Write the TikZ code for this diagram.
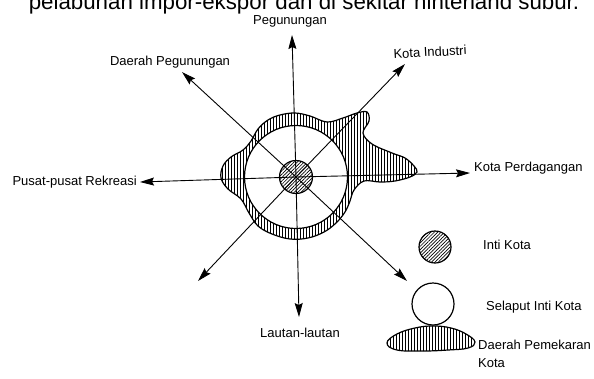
\documentclass[tikz,border=0pt]{standalone}
\usepackage{fontspec}
\setmainfont{Liberation Sans}
\usetikzlibrary{arrows.meta,patterns.meta}
\begin{document}
\begin{tikzpicture}[x=1pt,y=-1pt,
  lbl/.style={font=\fontsize{13}{18}\selectfont, inner sep=0pt},
  spoke/.style={line width=0.9pt, -{Stealth[length=14pt,width=8pt,inset=2pt]}},
  ring/.style={pattern={Lines[angle=90,distance=3pt,line width=0.7pt]}},
  core/.style={pattern={Lines[angle=45,distance=2.4pt,line width=0.7pt]}},
  outline/.style={line width=1.2pt},
  disc/.style={circle, draw, outline, inner sep=0pt}]
\useasboundingbox (0,0) rectangle (594,378);
% cut-off heading line (cropped in the reference)
\node[font=\fontsize{22.3}{26}\selectfont, anchor=base, inner sep=0pt] (head) at (304,9) {pelabuhan impor-ekspor dan di sekitar hinterland subur.};
% expansion area
\path[ring, draw, outline] plot[smooth cycle, tension=0.6] coordinates {
 (295,113) (310,116) (327,122) (343,118) (357,113) (367,112) (369,121) (363,133)
 (372,144) (392,153) (405,158) (414,166) (417,172) (410,177) (395,181) (380,182)
 (364,181) (354,190) (350,201) (345,212) (336,223) (324,232) (308,238) (290,239)
 (272,234) (258,226) (249,213) (241,199) (228,189) (221,178) (223,166) (231,157)
 (243,150) (251,141) (258,129) (268,120) (280,115)};
\node[disc, fill=white, minimum size=103pt] (mid) at (296,177) {};
\node[disc, core, minimum size=33pt] (core) at (296,177) {};
\coordinate (c) at (296,177);
% spoke tips
\coordinate (tN) at (292,35);
\coordinate (tNE) at (405,64);
\coordinate (tE) at (470,173);
\coordinate (tSE) at (407,281);
\coordinate (tS) at (299,317);
\coordinate (tSW) at (198,281);
\coordinate (tW) at (140,182);
\coordinate (tNW) at (182,72);
\foreach \t in {tN,tNE,tE,tSE,tS,tSW,tW,tNW} \draw[spoke] (c) -- (\t);
% labels
\node[lbl] (nPeg) at (290,21) {Pegunungan};
\node[lbl] (nDP) at (170,62) {Daerah Pegunungan};
\node[lbl, rotate=3] (nKI) at (430,52) {Kota Industri};
\node[lbl, anchor=east] (nPR) at (137,182) {Pusat-pusat Rekreasi};
\node[lbl, anchor=west] (nKP) at (474,168) {Kota Perdagangan};
\node[lbl] (nLL) at (300,333) {Lautan-lautan};
% legend
\node[disc, core, minimum size=32pt] (lgcore) at (435,247) {};
\node[disc, fill=white, minimum size=42pt] (lgmid) at (433,304) {};
\path[ring, draw, outline] plot[smooth cycle, tension=0.7] coordinates {
 (387,343) (397,334) (415,328) (433,326) (451,328) (466,334) (475,342)
 (468,348) (448,350) (423,351) (397,350)};
\node[lbl, anchor=west] (lInti) at (483,245) {Inti Kota};
\node[lbl, anchor=west] (lSel) at (486,307) {Selaput Inti Kota};
\node[lbl, anchor=north west, align=left] (lDae) at (478,340) {Daerah Pemekaran\\Kota};
\end{tikzpicture}
\end{document}
